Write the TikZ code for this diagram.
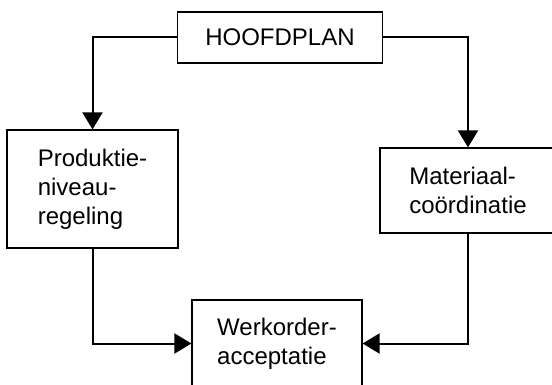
\documentclass[tikz,border=0pt]{standalone}
\usepackage{fontspec}
\setmainfont{Liberation Sans}
\usetikzlibrary{arrows.meta,positioning}
\tikzset{
  blk/.style={draw, rectangle, line width=1.2pt, align=left, inner sep=0pt, font=\fontsize{24}{29}\selectfont},
  arr/.style={-{Triangle[length=17pt, width=20pt]}, line width=2pt},
}

\begin{document}
\begin{tikzpicture}[x=1pt, y=-1pt]
\useasboundingbox (0,0) rectangle (552,385);

\node[blk, minimum width=205pt, minimum height=51pt] (plan) at (280,37.5) {HOOFDPLAN};
\node[blk, minimum width=171pt, minimum height=118pt] (prod) at (92.5,189) {Produktie-\\niveau-\\regeling};
\node[blk, minimum width=176pt, minimum height=85pt] (mat) at (468,190.5) {Materiaal-\\coördinatie};
\node[blk, minimum width=170pt, minimum height=87pt] (werk) at (277,343.5) {Werkorder-\\acceptatie};

\draw[arr] (plan.west) -| (prod.north);
\draw[arr] (plan.east) -| (mat.north);
\draw[arr] (prod.south) |- (werk.west);
\draw[arr] (mat.south) |- (werk.east);

\end{tikzpicture}
\end{document}
